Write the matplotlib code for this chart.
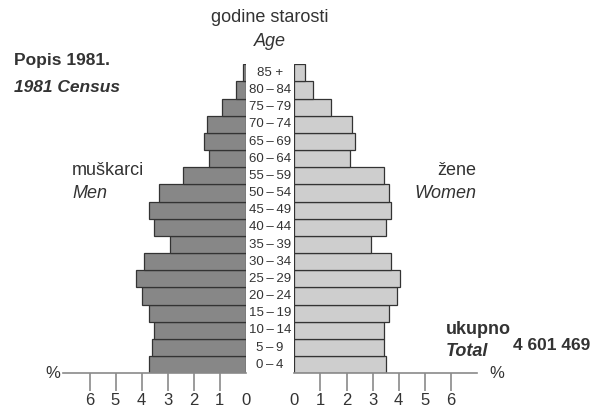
import matplotlib
matplotlib.use("Agg")
import matplotlib.pyplot as plt
import matplotlib.transforms as mtransforms

# age groups from youngest to oldest
age_groups = ["0 – 4", "5 – 9", "10 – 14", "15 – 19", "20 – 24", "25 – 29", "30 – 34",
              "35 – 39", "40 – 44", "45 – 49", "50 – 54", "55 – 59", "60 – 64",
              "65 – 69", "70 – 74", "75 – 79", "80 – 84", "85 +"]
men = [3.70, 3.61, 3.51, 3.70, 3.99, 4.20, 3.89, 2.89, 3.51, 3.70, 3.32, 2.39,
       1.39, 1.58, 1.49, 0.89, 0.38, 0.10]
women = [3.51, 3.42, 3.42, 3.62, 3.92, 4.04, 3.72, 2.92, 3.51, 3.72, 3.62, 3.42,
         2.12, 2.32, 2.22, 1.42, 0.71, 0.42]
ticks = [0, 1, 2, 3, 4, 5, 6]

FONT = ["Liberation Sans Narrow", "Liberation Sans", "DejaVu Sans"]
TXT = "#333333"
AXC = "#8a8a8a"

W, H = 603, 408
fig = plt.figure(figsize=(W / 100, H / 100), dpi=100)

def px_axes(x0, x1, y_top, y_bot):
    return fig.add_axes([x0 / W, 1 - y_bot / H, (x1 - x0) / W, (y_bot - y_top) / H])

ax_l = px_axes(63, 245.5, 64.3, 373.3)
ax_r = px_axes(294.3, 477, 64.3, 373.3)

ypos = list(range(len(age_groups)))
ax_l.barh(ypos, men, height=1.0, color="#878787", edgecolor="#333333", linewidth=0.9)
ax_r.barh(ypos, women, height=1.0, color="#cecece", edgecolor="#333333", linewidth=0.9)

for ax, lim in ((ax_l, (7.02, 0)), (ax_r, (0, 7.0))):
    ax.set_xlim(*lim)
    ax.set_ylim(-0.5, len(age_groups) - 0.5)
    for s in ("top", "left", "right"):
        ax.spines[s].set_visible(False)
    ax.spines["bottom"].set_color(AXC)
    ax.spines["bottom"].set_linewidth(1.2)
    ax.set_yticks([])
    ax.set_xticks(ticks)
    ax.set_xticklabels([str(t) for t in ticks], family=FONT, fontsize=12, color=TXT)
    ax.tick_params(axis="x", direction="out", length=13, width=1.2, color=AXC, pad=1.5)
    ax.xaxis.get_major_ticks()[0].tick1line.set_visible(False)
    ax.patch.set_visible(False)

# age labels in the middle
blend = mtransforms.blended_transform_factory(fig.transFigure, ax_l.transData)
for y, lab in zip(ypos, age_groups):
    fig.text(270 / W, y, lab.replace(" – ", "\u2009–\u2009"), transform=blend,
             ha="center", va="center", family=FONT, fontsize=9.5, color=TXT)

def ftext(x, y, s, **kw):
    kw.setdefault("family", FONT)
    kw.setdefault("color", TXT)
    fig.text(x / W, 1 - y / H, s, va="center", **kw)

ftext(270, 17, "godine starosti", ha="center", fontsize=13)
ftext(270, 42, "Age", ha="center", fontsize=13, style="italic")
ftext(14, 60, "Popis 1981.", ha="left", fontsize=12.5, weight="bold")
ftext(14, 87, "1981 Census", ha="left", fontsize=12.5, weight="bold", style="italic")
ftext(72, 170, "muškarci", ha="left", fontsize=13)
ftext(72, 194, "Men", ha="left", fontsize=13, style="italic")
ftext(476, 170, "žene", ha="right", fontsize=13)
ftext(476, 194, "Women", ha="right", fontsize=13, style="italic")
ftext(446, 330, "ukupno", ha="left", fontsize=13, weight="bold")
ftext(446, 352, "Total", ha="left", fontsize=13, weight="bold", style="italic")
ftext(513, 345, "4 601 469", ha="left", fontsize=12.5, weight="bold")
ftext(45, 373, "%", ha="left", fontsize=12)
ftext(489, 373, "%", ha="left", fontsize=12)

fig.savefig("out.png", dpi=100)
